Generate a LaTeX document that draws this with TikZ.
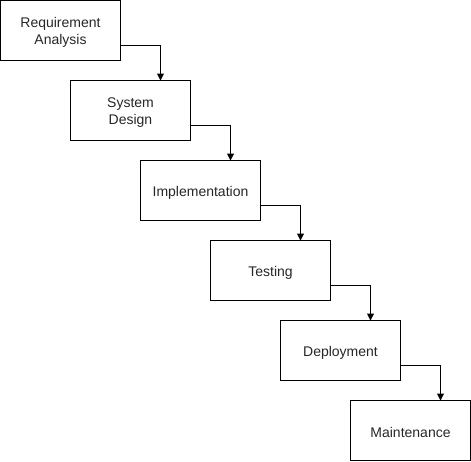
\documentclass[tikz,border=0pt]{standalone}
\usepackage{fontspec}
\setmainfont{Liberation Sans}
\usetikzlibrary{arrows.meta}
\newcommand{\dn}[1]{\raisebox{-2pt}[\height][\depth]{#1}}
\begin{document}
\begin{tikzpicture}[x=1pt,y=-1pt,
  stepbox/.style={draw=black,line width=1pt,minimum width=120pt,minimum height=60pt,
    anchor=north west,inner sep=0pt,outer sep=0pt,align=center,
    font=\fontsize{14pt}{17pt}\selectfont,text=black!85},
  arr/.style={draw=black,line width=1pt,-{Triangle[length=7pt,width=7pt]}}]
\useasboundingbox (0,0) rectangle (471,461);
\node[stepbox] (a) at (0.5,0.5) {\dn{Requirement}\\\dn{Analysis}};
\node[stepbox] (b) at (70.5,80.5) {\dn{System}\\\dn{Design}};
\node[stepbox] (c) at (140.5,160.5) {\dn{Implementation}};
\node[stepbox] (d) at (210.5,240.5) {\dn{Testing}};
\node[stepbox] (e) at (280.5,320.5) {\dn{Deployment}};
\node[stepbox] (f) at (350.5,400.5) {\dn{Maintenance}};
\draw[arr] ([yshift=-15pt]a.east) -| ([xshift=30pt]b.north);
\draw[arr] ([yshift=-15pt]b.east) -| ([xshift=30pt]c.north);
\draw[arr] ([yshift=-15pt]c.east) -| ([xshift=30pt]d.north);
\draw[arr] ([yshift=-15pt]d.east) -| ([xshift=30pt]e.north);
\draw[arr] ([yshift=-15pt]e.east) -| ([xshift=30pt]f.north);
\end{tikzpicture}
\end{document}
